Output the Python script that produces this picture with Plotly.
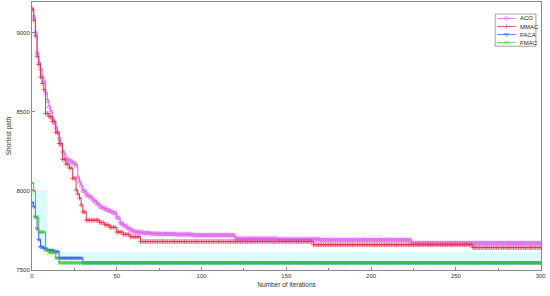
import plotly.graph_objects as go

# best-so-far curves, given as (iteration where the value changes, new value)
aco_iter = [0, 1, 2, 3, 4, 5, 6, 7, 8, 9, 10, 11, 12, 13, 14, 15, 16, 17, 18, 19, 20, 22, 24, 26, 27, 28, 29, 30,
            32, 34, 36, 38, 40, 42, 44, 46, 48, 50, 52, 54, 56, 58, 60, 63, 66, 70, 75, 85, 95, 120, 145, 170, 224]
aco_val = [9150, 9100, 9000, 8870, 8810, 8770, 8720, 8690, 8620, 8570, 8530, 8500, 8460, 8430, 8400, 8370, 8330,
           8290, 8250, 8230, 8200, 8190, 8175, 8160, 8085, 8055, 8030, 8000, 7975, 7960, 7940, 7920, 7900, 7890,
           7880, 7870, 7860, 7830, 7795, 7780, 7765, 7752, 7742, 7738, 7734, 7730, 7728, 7725, 7720, 7698, 7694,
           7690, 7670]

mmac_iter = [0, 1, 2, 3, 4, 5, 6, 7, 8, 10, 12, 14, 16, 18, 20, 22, 24, 26, 27, 28, 29, 30, 32, 40, 43, 46,
             50, 54, 58, 64, 166, 260]
mmac_val = [9150, 9080, 8980, 8850, 8800, 8720, 8680, 8640, 8490, 8470, 8440, 8370, 8300, 8200, 8170, 8145,
            8080, 8005, 7980, 7955, 7910, 7867, 7815, 7800, 7785, 7770, 7740, 7725, 7710, 7680, 7660, 7642]

faca_iter = [0, 1, 2, 3, 4, 5, 7, 9, 13, 16, 30]
faca_val = [7925, 7900, 7835, 7760, 7690, 7645, 7635, 7625, 7615, 7575, 7545]

fmac_iter = [0, 1, 2, 4, 8, 10, 14, 16]
fmac_val = [8050, 8000, 7835, 7740, 7625, 7610, 7575, 7545]

cyan_iter = [0, 9, 16]
cyan_top = [8000, 7640, 7612]

n_iter = 300
names = ["ACO", "MMAC", "FACA", "FMAC"]
colors = ["#da60f2", "#dd3a52", "#3d5cf0", "#3fc236"]
symbols = ["circle-open", "cross-thin-open", "triangle-down-open", "x-thin-open"]


def expand(change_iter, change_val):
    out = []
    k = 0
    for i in range(n_iter + 1):
        while k + 1 < len(change_iter) and change_iter[k + 1] <= i:
            k += 1
        out.append(change_val[k])
    return out


x = list(range(n_iter + 1))
aco = expand(aco_iter, aco_val)
mmac = expand(mmac_iter, mmac_val)
faca = expand(faca_iter, faca_val)
fmac = expand(fmac_iter, fmac_val)
cyan = expand(cyan_iter, cyan_top)

fig = go.Figure()


def band(lower, upper, color):
    fig.add_trace(go.Scatter(x=x, y=lower, mode="lines", line=dict(width=0, shape="hv"),
                             showlegend=False, hoverinfo="skip"))
    fig.add_trace(go.Scatter(x=x, y=upper, mode="lines", line=dict(width=0, shape="hv"),
                             fill="tonexty", fillcolor=color, showlegend=False, hoverinfo="skip"))


band([v - 22 for v in aco], [v + 22 for v in aco], "rgba(255,175,240,0.3)")
band([v - 14 for v in mmac], [v + 14 for v in mmac], "rgba(255,175,220,0.25)")
band([min(a, b) - 5 for a, b in zip(faca, fmac)], cyan, "rgba(175,245,245,0.45)")

for name, y, col, sym in zip(names, [aco, mmac, faca, fmac], colors, symbols):
    fig.add_trace(go.Scatter(
        x=x, y=y, name=name, mode="lines+markers", showlegend=False,
        line=dict(color=col, width=1, shape="hv"),
        marker=dict(symbol=sym, size=3.5, color=col, line=dict(width=0.7, color=col)),
    ))

# small hand-drawn legend (MATLAB style), placed in paper coordinates
lx0, lx1 = 0.910, 0.990
ly_top, ly_bot = 0.955, 0.835
step = (ly_top - ly_bot) / 4
for i, (name, col, sym) in enumerate(zip(names, colors, symbols)):
    yy = ly_top - step * (i + 0.55)
    fig.add_trace(go.Scatter(
        x=[0.914, 0.932, 0.950], y=[yy, yy, yy], xaxis="x2", yaxis="y2", mode="lines+markers",
        line=dict(color=col, width=0.8), showlegend=False, hoverinfo="skip",
        marker=dict(symbol=sym, size=[0, 4, 0], color=col, line=dict(width=0.7, color=col)),
    ))
    fig.add_annotation(x=0.954, y=yy, xref="paper", yref="paper", text=name, showarrow=False,
                       xanchor="left", yanchor="middle", font=dict(size=6, color="#222222"))
fig.add_shape(type="rect", xref="paper", yref="paper", x0=lx0, x1=lx1, y0=ly_bot, y1=ly_top,
              line=dict(color="#666666", width=0.6), fillcolor="rgba(0,0,0,0)")

axis_common = dict(showline=True, linecolor="#8a8a8a", linewidth=1, mirror=True, showgrid=False,
                   zeroline=False, ticks="inside", ticklen=3, tickcolor="#8a8a8a",
                   tickfont=dict(size=6, color="#333333"), automargin=False)

fig.update_xaxes(range=[0, 300.2], tickvals=[0, 50, 100, 150, 200, 250, 300],
                 title=dict(text="Number of iterations", font=dict(size=6.5), standoff=4),
                 minor=dict(tickvals=[25, 75, 125, 175, 225, 275], ticks="inside", ticklen=2,
                            tickcolor="#8a8a8a"),
                 **axis_common)
fig.update_yaxes(range=[7500, 9195], tickvals=[7500, 8000, 8500, 9000],
                 title=dict(text="Shortest path", font=dict(size=6.5), standoff=4), **axis_common)

fig.update_layout(
    width=550, height=296,
    margin=dict(l=32, r=9, t=2, b=26, autoexpand=False),
    plot_bgcolor="white", paper_bgcolor="white",
    font=dict(family="Liberation Sans, Arial", color="#333333"),
    showlegend=False,
    xaxis2=dict(overlaying="x", range=[0, 1], visible=False, automargin=False),
    yaxis2=dict(overlaying="y", range=[0, 1], visible=False, automargin=False),
)

fig.write_html("out.html", config={"displayModeBar": False},
               post_script="document.body.style.margin='0';")
